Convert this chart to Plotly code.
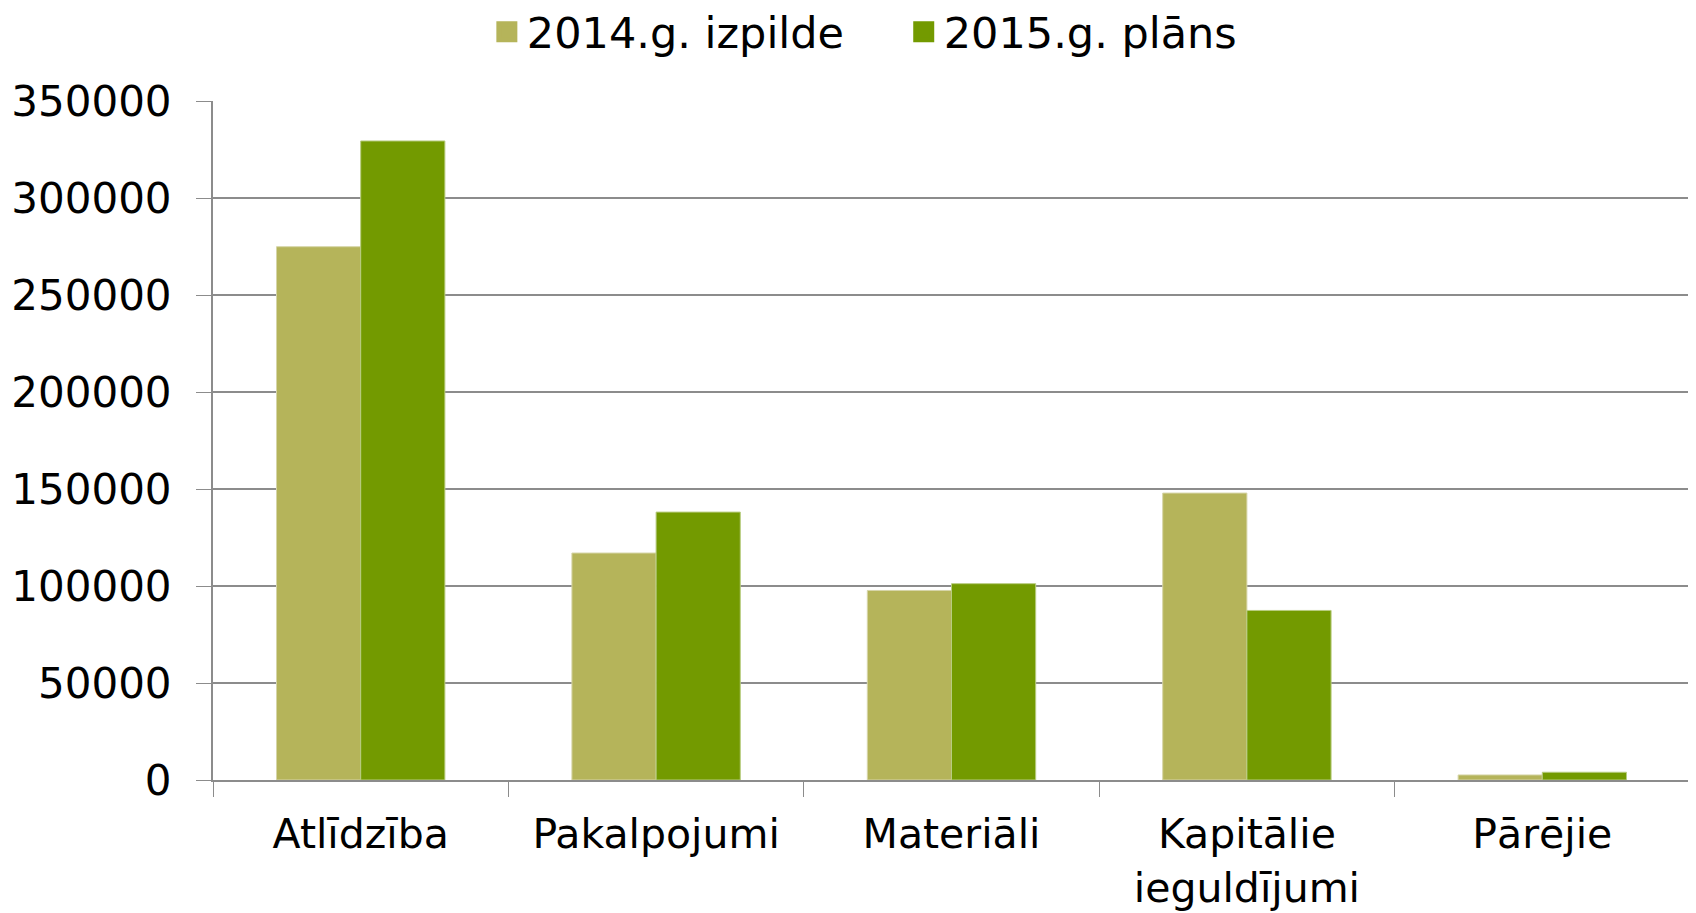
import plotly.graph_objects as go

categories = ["Atlīdzība", "Pakalpojumi", "Materiāli", "Kapitālie<br>ieguldījumi", "Pārējie"]
series_2014 = [274900, 117000, 97700, 147900, 2600]
series_2015 = [329400, 138100, 101200, 87400, 4000]
series_names = ["2014.g. izpilde", "2015.g. plāns"]
y_tickvals = [0, 50000, 100000, 150000, 200000, 250000, 300000, 350000]
y_ticktext = ["0", "50000", "100000", "150000", "200000", "250000", "300000", "350000"]

FONT = "Verdana, DejaVu Sans, sans-serif"
GRID = "#8c8c8c"
C14 = "#B5B45A"
C15 = "#739A00"
FS = 42

fig = go.Figure()
fig.add_trace(go.Bar(
    x=categories, y=series_2014, name=series_names[0], showlegend=False,
    marker=dict(color=C14, line=dict(color="#D6D5A8", width=1)),
))
fig.add_trace(go.Bar(
    x=categories, y=series_2015, name=series_names[1], showlegend=False,
    marker=dict(color=C15, line=dict(color="#B8CC80", width=1)),
))
# legend entries with larger square swatches (extra gap after the first entry)
legend_labels = [series_names[0] + "\u00a0\u00a0\u00a0\u00a0", series_names[1]]
for name, col in zip(legend_labels, [C14, C15]):
    fig.add_trace(go.Scatter(
        x=[None], y=[None], mode="markers", name=name,
        marker=dict(symbol="square", size=16, color=col, line=dict(color=col, width=5)),
    ))

fig.update_layout(
    width=1688, height=905,
    paper_bgcolor="white", plot_bgcolor="white",
    barmode="group", bargap=0.43, bargroupgap=0,
    margin=dict(l=205, r=6, t=93, b=133, autoexpand=False),
    font=dict(family=FONT, size=FS, color="black"),
    legend=dict(
        orientation="h", xref="paper", yref="paper",
        x=0.441, xanchor="center", y=1.102, yanchor="middle",
        font=dict(size=43), itemsizing="trace", itemwidth=30,
        bgcolor="rgba(0,0,0,0)", traceorder="normal",
    ),
    showlegend=True,
)
fig.update_xaxes(
    type="category", tickson="boundaries",
    showline=True, linecolor=GRID, linewidth=2,
    ticks="outside", ticklen=15, tickcolor=GRID, tickwidth=1,
    showgrid=False, tickfont=dict(size=41), ticklabelstandoff=17,
)
fig.update_yaxes(
    range=[0, 350000], tickvals=y_tickvals, ticktext=y_ticktext,
    showline=True, linecolor=GRID, linewidth=2,
    ticks="outside", ticklen=15, tickcolor=GRID, tickwidth=1,
    showgrid=True, gridcolor=GRID, gridwidth=2,
    zeroline=False, tickfont=dict(size=FS), ticklabelstandoff=16,
)

fig.write_html("out.html")
